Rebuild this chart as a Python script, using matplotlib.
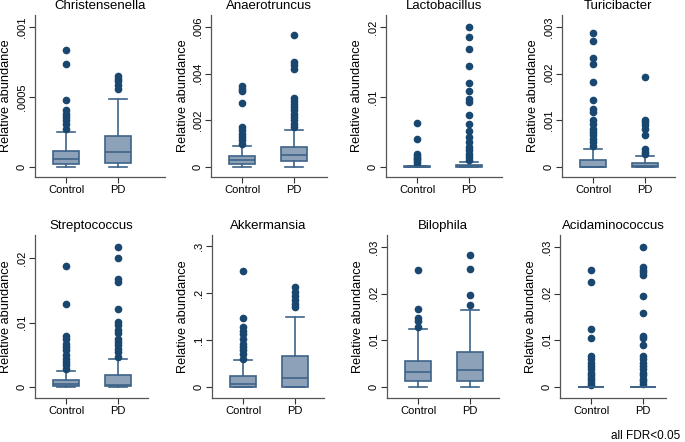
import numpy as np
import matplotlib.pyplot as plt

plt.rcParams['font.family'] = ['Liberation Sans', 'DejaVu Sans']

# panel titles and group names
taxa = ["Christensenella", "Anaerotruncus", "Lactobacillus", "Turicibacter",
        "Streptococcus", "Akkermansia", "Bilophila", "Acidaminococcus"]
groups = ["Control", "PD"]

# box summaries per taxon: [Control, PD] -> (whislo, q1, med, q3, whishi)
christ_box = [(0, 0.000019, 0.000055, 0.000114, 0.00025),
              (0, 0.000029, 0.000107, 0.000219, 0.000488)]
anaero_box = [(0, 0.000143, 0.000286, 0.000486, 0.000886),
              (0, 0.000257, 0.0005, 0.000843, 0.00157)]
lacto_box = [(0, 0, 0.00002, 0.00008, 0.0002),
             (0, 0.00002, 0.00008, 0.0003, 0.0007)]
turici_box = [(0, 0, 0.00001, 0.000157, 0.00038),
              (0, 0, 0.00002, 0.000093, 0.000236)]
strep_box = [(0, 0.000155, 0.000413, 0.00109, 0.00248),
             (0, 0.000155, 0.00026, 0.00186, 0.00434)]
akker_box = [(0, 0, 0.0057, 0.0242, 0.0569),
             (0, 0.0007, 0.0192, 0.0668, 0.149)]
bilo_box = [(0, 0.00128, 0.00313, 0.00555, 0.0124),
            (0, 0.00128, 0.00355, 0.00754, 0.0164)]
acid_box = [(0, 0, 0, 0.00002, 0.00005),
            (0, 0, 0, 0.00002, 0.00005)]

# outliers per taxon: [Control, PD]
christ_out = [[0.000838, 0.000738, 0.000476, 0.000405, 0.00038, 0.000357, 0.000333, 0.000305, 0.000274],
              [0.000648, 0.000631, 0.000614, 0.000583, 0.00056]]
anaero_out = [[0.00346, 0.00336, 0.00326, 0.00274, 0.00171, 0.00157, 0.00143, 0.00129, 0.00114, 0.001],
              [0.00564, 0.0045, 0.00439, 0.00419, 0.00297, 0.00285, 0.00271, 0.00257, 0.00243,
               0.00229, 0.00214, 0.002, 0.00186, 0.00171]]
lacto_out = [[0.00629, 0.00405, 0.00181, 0.00157, 0.00133, 0.0011, 0.00086, 0.00057],
             [0.02, 0.0186, 0.0168, 0.0145, 0.012, 0.0109, 0.0097, 0.0093, 0.0074, 0.0062,
              0.0051, 0.0043, 0.0036, 0.0029, 0.0024, 0.0019, 0.0014, 0.001]]
turici_out = [[0.00287, 0.00271, 0.00234, 0.00221, 0.00182, 0.00144, 0.00125, 0.00118, 0.001,
               0.00093, 0.00082, 0.00075, 0.00068, 0.0006, 0.00053, 0.00046],
              [0.00193, 0.001, 0.00096, 0.00089, 0.00082, 0.00068, 0.00039, 0.00032, 0.00027]]
strep_out = [[0.0187, 0.0128, 0.00786, 0.0075, 0.00672, 0.0062, 0.00568, 0.00491, 0.00439,
              0.00388, 0.00336, 0.00284],
             [0.0217, 0.02, 0.0168, 0.0163, 0.0121, 0.0101, 0.0096, 0.0088, 0.0083, 0.0075,
              0.007, 0.0065, 0.0059, 0.0054, 0.0047]]
akker_out = [[0.247, 0.146, 0.128, 0.119, 0.112, 0.103, 0.0924, 0.0853, 0.0782, 0.0697, 0.0604],
             [0.212, 0.203, 0.193, 0.185, 0.176, 0.171]]
bilo_out = [[0.025, 0.0167, 0.0147, 0.0142, 0.0128],
            [0.0283, 0.0253, 0.0198, 0.0176]]
acid_out = [[0.025, 0.0226, 0.0124, 0.0106, 0.00664, 0.00593, 0.00521, 0.0045, 0.0038, 0.0031,
             0.0025, 0.002, 0.0014, 0.0009, 0.0005],
            [0.0299, 0.0257, 0.0251, 0.0246, 0.0241, 0.0194, 0.0159, 0.0109, 0.0106, 0.0091,
             0.0066, 0.0059, 0.0052, 0.0045, 0.0038, 0.0031, 0.0025, 0.0018, 0.0012, 0.0007]]

# y ticks and their Stata-style labels
yticks = [[0, 0.0005, 0.001], [0, 0.002, 0.004, 0.006], [0, 0.01, 0.02], [0, 0.001, 0.002, 0.003],
          [0, 0.01, 0.02], [0, 0.1, 0.2, 0.3], [0, 0.01, 0.02, 0.03], [0, 0.01, 0.02, 0.03]]
ytick_labels = [["0", ".0005", ".001"], ["0", ".002", ".004", ".006"], ["0", ".01", ".02"],
                ["0", ".001", ".002", ".003"], ["0", ".01", ".02"], ["0", ".1", ".2", ".3"],
                ["0", ".01", ".02", ".03"], ["0", ".01", ".02", ".03"]]

boxes = [christ_box, anaero_box, lacto_box, turici_box, strep_box, akker_box, bilo_box, acid_box]
outs = [christ_out, anaero_out, lacto_out, turici_out, strep_out, akker_out, bilo_out, acid_out]

W, H = 685, 442
fig = plt.figure(figsize=(W / 100, H / 100), dpi=100)

# axes rectangles in pixels: left, right, top, bottom
rects = [(35, 165, 15, 177), (211, 327, 15, 177), (386, 502, 15, 177), (562, 675, 15, 177),
         (35, 148, 235, 398), (212, 324, 235, 398), (387, 499, 235, 398), (560, 666, 235, 398)]
# pixel position of y=0 and of the top tick
zero_px = [167] * 4 + [387] * 4
top_px = [27, 27, 27, 27, 258, 246, 247, 247]

navy = "#1a476f"
fill = "#8da2b8"
edge = "#3e6489"

for i in range(8):
    l, r, t, b = rects[i]
    ax = fig.add_axes([l / W, 1 - b / H, (r - l) / W, (b - t) / H])
    stats = []
    for g in range(2):
        lo, q1, med, q3, hi = boxes[i][g]
        stats.append(dict(whislo=lo, q1=q1, med=med, q3=q3, whishi=hi,
                          fliers=outs[i][g], label=groups[g]))
    ax.bxp(stats, positions=[1, 2], widths=0.5, patch_artist=True, capwidths=0.35,
           boxprops=dict(facecolor=fill, edgecolor=edge, linewidth=1.2),
           medianprops=dict(color=edge, linewidth=1.2),
           whiskerprops=dict(color=edge, linewidth=1.2),
           capprops=dict(color=edge, linewidth=1.2),
           flierprops=dict(marker='o', markerfacecolor=navy, markeredgecolor=navy,
                           markersize=4.5))
    T = yticks[i][-1]
    span = zero_px[i] - top_px[i]
    ax.set_ylim(-(b - zero_px[i]) / span * T, T + (top_px[i] - t) / span * T)
    ax.set_xlim(0.4, 0.4 + (r - l) / 52)
    ax.set_yticks(yticks[i])
    ax.set_yticklabels(ytick_labels[i], rotation=90, va='center', fontsize=8)
    ax.set_xticks([1, 2])
    ax.set_xticklabels(groups, fontsize=8)
    ax.tick_params(colors='#333333', length=4, width=0.8, labelcolor='black', pad=2)
    ax.spines['top'].set_visible(False)
    ax.spines['right'].set_visible(False)
    for s in ['left', 'bottom']:
        ax.spines[s].set_color('#555555')
        ax.spines[s].set_linewidth(0.9)
    ax.set_ylabel("Relative abundance", fontsize=9.2, labelpad=3)
    ax.set_title(taxa[i], fontsize=9.5, pad=4)

fig.text(680 / W, 1 - 436 / H, "all FDR<0.05", ha='right', va='center', fontsize=8.5)

fig.savefig("out.png", dpi=100, facecolor='white')
